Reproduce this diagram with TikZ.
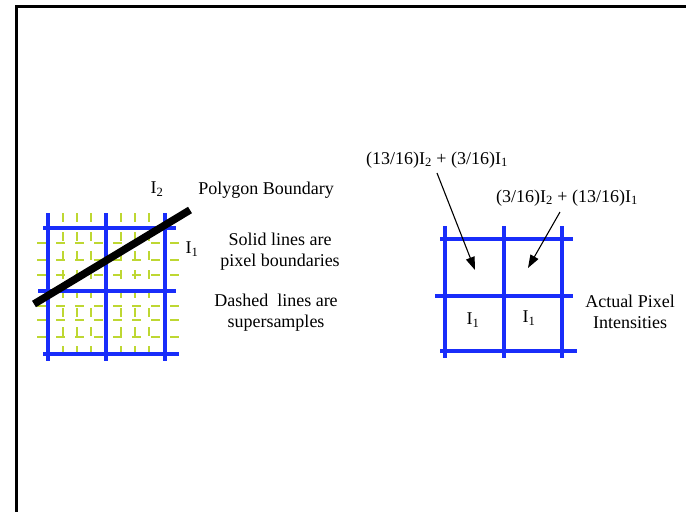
\documentclass[tikz,border=0pt]{standalone}
\usepackage{fontspec}
\setmainfont{Liberation Serif}
\usetikzlibrary{arrows.meta}
\definecolor{pixblue}{RGB}{25,45,250}
\definecolor{subgreen}{RGB}{190,215,50}
\tikzset{
  pixline/.style={draw=pixblue,line width=3.2pt},
  subline/.style={draw=subgreen,line width=1.8pt,dash pattern=on 9pt off 10pt},
  lbl/.style={font=\fontsize{18}{21}\selectfont,inner sep=0pt,align=center},
  ptr/.style={line width=1.1pt,-{Triangle[length=13pt,width=9pt]}},
}
\newcommand{\Ione}{I\textsubscript{1}}
\newcommand{\Itwo}{I\textsubscript{2}}
\begin{document}
\begin{tikzpicture}[x=1pt,y=-1pt]
\useasboundingbox (0,0) rectangle (686,512);
% frame
\draw[line width=3pt] (686,6) -- (16.5,6) -- (16.5,512);
% supersample dashed lines (left grid)
\foreach \x in {63,77,91,121,135,149} {
  \draw[subline,dash phase=0pt] (\x,213) -- (\x,362);
}
\foreach \y in {243,260,275,306,320,337} {
  \draw[subline,dash phase=0pt] (37,\y) -- (179,\y);
}
% pixel boundaries (left grid)
\foreach \x in {48,106,165} {
  \draw[pixline] (\x,213) -- (\x,361);
}
\draw[pixline] (43,228) -- (176,228);
\draw[pixline] (38,291) -- (176,291);
\draw[pixline] (43,354) -- (179,354);
% polygon boundary
\draw[line width=7.5pt] (34,304) -- (190,210);
% left labels
\node[lbl] (i2) at (157,189) {\Itwo};
\node[lbl] (pb) at (266,190) {Polygon Boundary};
\node[lbl] (i1) at (192,249) {\Ione};
\node[lbl] (sol) at (280,252) {Solid lines are\\pixel boundaries};
\node[lbl] (dsh) at (276,313) {Dashed\ \ lines are\\supersamples};
% right grid
\foreach \x in {445,504,562} {
  \draw[pixline] (\x,226) -- (\x,358);
}
\draw[pixline] (440,239) -- (573,239);
\draw[pixline] (435,296) -- (573,296);
\draw[pixline] (440,351) -- (577,351);
% right labels
\node[lbl] (f1) at (437,160) {(13/16)\Itwo{} + (3/16)\Ione};
\node[lbl] (f2) at (567,198) {(3/16)\Itwo{} + (13/16)\Ione};
\node[lbl] (c1) at (473,320) {\Ione};
\node[lbl] (c2) at (529,318) {\Ione};
\node[lbl] (act) at (630,312) {Actual Pixel\\Intensities};
\coordinate (t1) at (475,270);
\coordinate (t2) at (528,268);
\draw[ptr] (437,173) -- (t1);
\draw[ptr] (560,212) -- (t2);
\end{tikzpicture}
\end{document}
